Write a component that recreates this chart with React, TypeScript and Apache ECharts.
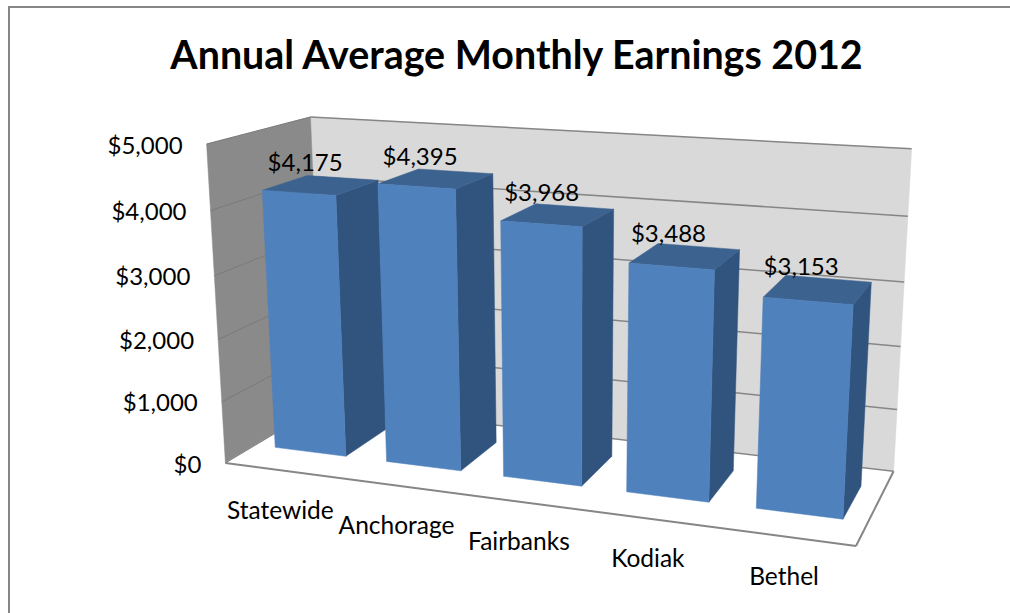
import React, { useEffect, useRef } from "react";
import * as echarts from "echarts";

const categories = ["Statewide", "Anchorage", "Fairbanks", "Kodiak", "Bethel"];
const earnings = [4175, 4395, 3968, 3488, 3153];
const yTicks = [0, 1000, 2000, 3000, 4000, 5000];
const yMax = 5000;
const titleText = "Annual Average Monthly Earnings 2012";

// Camera calibration: world (u along categories, v up, z into the page) to screen pixels.
const calibration: number[][] = [
  [0, 0, 0, 225, 463],
  [1, 0, 0, 856, 546],
  [0, 1, 0, 207, 144],
  [0, 0, 1, 323, 405],
  [1, 0, 1, 893, 471],
  [0, 1, 1, 310, 117],
  [1, 1, 1, 911, 149],
  [1, 0.8, 1, 908, 216],
  [1, 0.6, 1, 905, 282],
  [1, 0.4, 1, 901, 346],
  [1, 0.2, 1, 897, 410],
];

function solve(A: number[][], b: number[]): number[] {
  const n = b.length;
  const m = A.map((r, i) => [...r, b[i]]);
  for (let c = 0; c < n; c++) {
    let piv = c;
    for (let r = c + 1; r < n; r++) if (Math.abs(m[r][c]) > Math.abs(m[piv][c])) piv = r;
    [m[c], m[piv]] = [m[piv], m[c]];
    for (let r = 0; r < n; r++) {
      if (r === c) continue;
      const f = m[r][c] / m[c][c];
      for (let k = c; k <= n; k++) m[r][k] -= f * m[c][k];
    }
  }
  return m.map((r, i) => r[n] / r[i]);
}

function fitCamera(): number[] {
  const rows: number[][] = [];
  const rhs: number[] = [];
  for (const [u, v, z, X, Y] of calibration) {
    rows.push([u, v, z, 1, 0, 0, 0, 0, -X * u, -X * v, -X * z]);
    rhs.push(X);
    rows.push([0, 0, 0, 0, u, v, z, 1, -Y * u, -Y * v, -Y * z]);
    rhs.push(Y);
  }
  const n = 11;
  const ata = Array.from({ length: n }, (_, i) =>
    Array.from({ length: n }, (_, j) => rows.reduce((s, r) => s + r[i] * r[j], 0))
  );
  const atb = Array.from({ length: n }, (_, i) => rows.reduce((s, r, k) => s + r[i] * rhs[k], 0));
  return solve(ata, atb);
}

const cam = fitCamera();
function project(u: number, v: number, z: number): number[] {
  const w = cam[8] * u + cam[9] * v + cam[10] * z + 1;
  return [
    (cam[0] * u + cam[1] * v + cam[2] * z + cam[3]) / w,
    (cam[4] * u + cam[5] * v + cam[6] * z + cam[7]) / w,
  ];
}

const BAR_FRACTION = 0.64;
const Z_FRONT = 0.29;
const Z_BACK = 0.74;
const FONT_FAMILY = 'Lato, "Noto Sans", sans-serif';
const VALUE_FONT = "24px " + FONT_FAMILY;
const CATEGORY_FONT = "24.5px " + FONT_FAMILY;
const EDGE = "#868686";

function poly(points: number[][], fill: string) {
  return { type: "polygon", shape: { points }, style: { fill, stroke: fill, lineWidth: 0.5 }, silent: true };
}
function line(a: number[], b: number[], stroke: string, lineWidth: number) {
  return { type: "line", shape: { x1: a[0], y1: a[1], x2: b[0], y2: b[1] }, style: { stroke, lineWidth }, silent: true };
}
function label(text: string, p: number[], align: string, font: string) {
  return {
    type: "text",
    silent: true,
    style: { text, x: p[0], y: p[1], fill: "#000", font, align, verticalAlign: "middle" },
  };
}

function renderWalls() {
  return {
    type: "group",
    children: [
      poly([project(0, 0, 1), project(1, 0, 1), project(1, 1, 1), project(0, 1, 1)], "#D9D9D9"),
      poly([project(0, 0, 0), project(0, 0, 1), project(0, 1, 1), project(0, 1, 0)], "#8A8A8A"),
      poly([project(0, 0, 0), project(1, 0, 0), project(1, 0, 1), project(0, 0, 1)], "#FFFFFF"),
      line(project(0, 0, 0), project(1, 0, 0), EDGE, 2),
      line(project(1, 0, 0), project(1, 0, 1), EDGE, 2),
    ],
  };
}

function renderTick(params: any, api: any) {
  const cs = params.coordSys;
  const py = api.coord([0, api.value(1)])[1];
  const v = (cs.y + cs.height - py) / cs.height;
  const front = project(0, v, 0);
  return {
    type: "group",
    children: [
      line(project(0, v, 1), project(1, v, 1), EDGE, 1.5),
      line(front, project(0, v, 1), "#7A7A7A", 1),
      label("$" + api.value(1).toLocaleString("en-US"), [front[0] - 24, front[1]], "right", VALUE_FONT),
    ],
  };
}

function renderBar(params: any, api: any) {
  const cs = params.coordSys;
  const pt = api.coord([api.value(0), api.value(1)]);
  const band = api.size([1, 0])[0] * BAR_FRACTION;
  const u0 = (pt[0] - band / 2 - cs.x) / cs.width;
  const u1 = (pt[0] + band / 2 - cs.x) / cs.width;
  const v = (cs.y + cs.height - pt[1]) / cs.height;
  const a = project(u0, 0, Z_FRONT);
  const b = project(u1, 0, Z_FRONT);
  const c = project(u1, 0, Z_BACK);
  const d = project(u0, v, Z_FRONT);
  const e = project(u1, v, Z_FRONT);
  const f = project(u1, v, Z_BACK);
  const g = project(u0, v, Z_BACK);
  return {
    type: "group",
    children: [
      poly([b, c, f, e], "#31547E"),
      poly([d, e, f, g], "#3C628F"),
      poly([a, b, e, d], "#4F81BD"),
    ],
  };
}

function renderValueLabel(params: any, api: any) {
  const cs = params.coordSys;
  const pt = api.coord([api.value(0), api.value(1)]);
  const u = (pt[0] - cs.x) / cs.width;
  const v = (cs.y + cs.height - pt[1]) / cs.height;
  const p = project(u, v, 0.535);
  return label("$" + api.value(1).toLocaleString("en-US"), [p[0] - 18, p[1] - 23], "center", VALUE_FONT);
}

function renderCategory(params: any, api: any) {
  const cs = params.coordSys;
  const pt = api.coord([api.value(0), 0]);
  const p = project((pt[0] - cs.x) / cs.width, 0, 0);
  return label(categories[api.value(0)], [p[0] - 1, p[1] + 39], "center", CATEGORY_FONT);
}

export default function App() {
  const ref = useRef<HTMLDivElement>(null);
  useEffect(() => {
    const chart = echarts.init(ref.current!, undefined, { renderer: "svg" });
    const barData = earnings.map((v, i) => [i, v]);
    chart.setOption({
      animation: false,
      backgroundColor: "#fff",
      title: {
        text: titleText,
        left: 511.5,
        top: 48,
        textAlign: "center",
        textVerticalAlign: "middle",
        textStyle: { fontFamily: FONT_FAMILY, fontWeight: "bold", fontSize: 39.4, color: "#000" },
      },
      grid: { left: 200, top: 100, width: 700, height: 400 },
      xAxis: { type: "category", data: categories, show: false },
      yAxis: { type: "value", min: 0, max: yMax, interval: 1000, show: false },
      graphic: [
        {
          type: "rect",
          silent: true,
          shape: { x: 9, y: 7, width: 1100, height: 800 },
          style: { fill: "none", stroke: EDGE, lineWidth: 2 },
        },
      ],
      series: [
        { type: "custom", clip: false, silent: true, renderItem: renderWalls, data: [[0, 0]], z: 1 },
        {
          type: "custom",
          clip: false,
          silent: true,
          renderItem: renderTick,
          data: yTicks.map((t) => [0, t]),
          z: 2,
        },
        { type: "custom", clip: false, silent: true, renderItem: renderBar, data: barData, z: 3 },
        { type: "custom", clip: false, silent: true, renderItem: renderValueLabel, data: barData, z: 4 },
        {
          type: "custom",
          clip: false,
          silent: true,
          renderItem: renderCategory,
          data: categories.map((_, i) => [i, 0]),
          z: 4,
        },
      ],
    });
    return () => chart.dispose();
  }, []);
  return <div ref={ref} style={{ position: "fixed", left: 0, top: 0, width: 1010, height: 613 }} />;
}
